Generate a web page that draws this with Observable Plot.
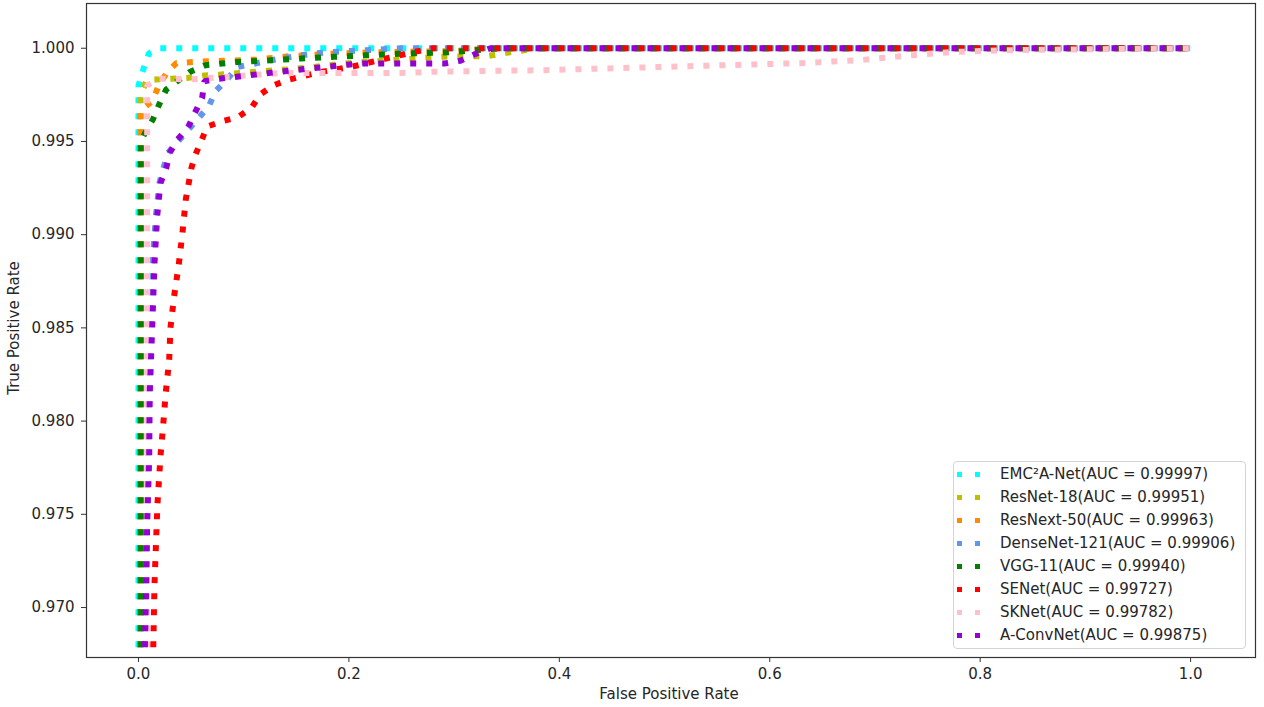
<!DOCTYPE html>
<html><head><meta charset="utf-8">
<script src="https://cdn.jsdelivr.net/npm/d3@7"></script>
<script src="https://cdn.jsdelivr.net/npm/@observablehq/plot@0.6"></script>
<style>
body{margin:0;background:#fff;font-family:"DejaVu Sans",sans-serif;}
#wrap{position:relative;width:1264px;height:707px;overflow:hidden;}
#legend{position:absolute;left:953px;top:461px;width:293px;height:188px;box-sizing:border-box;border:1px solid #d4d4d4;border-radius:4px;background:rgba(255,255,255,0.85);}
.row{position:absolute;left:0;height:20px;line-height:20px;font-size:15px;color:#262626;white-space:nowrap;}
.sq{position:absolute;top:7.5px;width:5px;height:5px;}
.lt{position:absolute;left:46px;top:0;}
.axlab{position:absolute;font-size:15px;color:#262626;white-space:nowrap;}
</style></head>
<body><div id="wrap"></div>
<script>
// Series names, colours, AUC values
const names = ["EMC²A-Net","ResNet-18","ResNext-50","DenseNet-121","VGG-11","SENet","SKNet","A-ConvNet"];
const aucs = ["0.99997","0.99951","0.99963","0.99906","0.99940","0.99727","0.99782","0.99875"];
const colors = ["#00ffff","#bfbf00","#ff8c00","#6495ed","#008000","#ff0000","#ffc0cb","#9400d3"];

// ROC points (FPR, TPR)
const emcFpr = [0.0, 0.0, 0.0045, 0.0098, 0.02, 1.0];
const emcTpr = [0.955, 0.9980, 0.99885, 0.99972, 1.0, 1.0];

const res18Fpr = [0.002, 0.002, 0.008, 0.016, 0.031, 0.047, 0.063, 0.078, 0.15, 0.2, 0.25, 0.29, 0.33, 0.355, 0.38, 1.0];
const res18Tpr = [0.955, 0.9975, 0.9983, 0.99832, 0.99837, 0.99841, 0.99854, 0.99859, 0.9989, 0.9992, 0.9994, 0.99955, 0.99957, 0.9998, 1.0, 1.0];

const resnextFpr = [0.0015, 0.0019, 0.013, 0.0183, 0.0263, 0.0361, 0.0668, 0.1128, 0.1428, 0.1888, 0.2357, 0.2965, 0.325, 0.345, 1.0];
const resnextTpr = [0.955, 0.99667, 0.99715, 0.99787, 0.99864, 0.99921, 0.9993, 0.99939, 0.99957, 0.99972, 0.9998, 0.99984, 0.99995, 1.0, 1.0];

const denseFpr = [0.004, 0.0052, 0.009, 0.0133, 0.0166, 0.02, 0.0278, 0.0573, 0.0668, 0.0732, 0.0843, 0.0938, 0.1254, 0.154, 0.168, 0.184, 0.2157, 0.249, 1.0];
const denseTpr = [0.955, 0.96763, 0.97806, 0.98844, 0.99102, 0.9928, 0.99437, 0.99627, 0.99688, 0.9977, 0.99833, 0.99899, 0.99935, 0.99962, 0.99972, 0.9998, 0.99989, 1.0, 1.0];

const vggFpr = [0.002, 0.0022, 0.014, 0.0197, 0.0263, 0.0488, 0.0637, 0.0938, 0.1245, 0.1546, 0.1856, 0.2157, 0.2613, 0.2934, 0.3155, 0.344, 1.0];
const vggTpr = [0.955, 0.99505, 0.99622, 0.99699, 0.99778, 0.99873, 0.99909, 0.99926, 0.99935, 0.99945, 0.99954, 0.99962, 0.99973, 0.99978, 0.99987, 1.0, 1.0];

const seFpr = [0.012, 0.014, 0.0152, 0.018, 0.0209, 0.0235, 0.0259, 0.0292, 0.0304, 0.0339, 0.0383, 0.0418, 0.045, 0.0504, 0.0542, 0.0602, 0.0653, 0.0805, 0.0944, 0.1074, 0.1153, 0.128, 0.1419, 0.1704, 0.2021, 0.2316, 0.2616, 0.28, 1.0];
const seTpr = [0.955, 0.9677, 0.9712, 0.9755, 0.9781, 0.9798, 0.9815, 0.9833, 0.985, 0.9867, 0.9884, 0.9901, 0.9919, 0.9936, 0.9943, 0.9951, 0.9958, 0.9961, 0.9963, 0.9968, 0.9975, 0.998, 0.9983, 0.9987, 0.999, 0.9994, 0.9998, 1.0, 1.0];

const skFpr = [0.008, 0.0083, 0.0202, 0.05, 0.135, 0.249, 0.28, 0.325, 0.382, 0.4866, 0.629, 0.686, 0.724, 0.772, 0.819, 0.914, 1.0];
const skTpr = [0.955, 0.99801, 0.99837, 0.99833, 0.99867, 0.99867, 0.99874, 0.99878, 0.99882, 0.99898, 0.9992, 0.99936, 0.99957, 0.99979, 0.99989, 0.99995, 1.0];

const convFpr = [0.0055, 0.006, 0.0073, 0.0083, 0.0102, 0.0107, 0.013, 0.0152, 0.0178, 0.0209, 0.0263, 0.0297, 0.0373, 0.0468, 0.0535, 0.0605, 0.0627, 0.0748, 0.1064, 0.1523, 0.1989, 0.2138, 0.2908, 0.306, 0.3196, 0.3345, 1.0];
const convTpr = [0.955, 0.9676, 0.97104, 0.97453, 0.97803, 0.98145, 0.98495, 0.98844, 0.99102, 0.99276, 0.99356, 0.99439, 0.99512, 0.99572, 0.99652, 0.99733, 0.99823, 0.99835, 0.99856, 0.99885, 0.99912, 0.99918, 0.99918, 0.99933, 0.99968, 1.0, 1.0];

const xTicks = [0.0, 0.2, 0.4, 0.6, 0.8, 1.0];
const yTicks = [0.970, 0.975, 0.980, 0.985, 0.990, 0.995, 1.000];

const series = [
  [emcFpr, emcTpr], [res18Fpr, res18Tpr], [resnextFpr, resnextTpr], [denseFpr, denseTpr],
  [vggFpr, vggTpr], [seFpr, seTpr], [skFpr, skTpr], [convFpr, convTpr]
];

const lineMarks = series.map(([fx, ty], i) =>
  Plot.line(fx.map((f, j) => ({fpr: f, tpr: ty[j]})), {
    x: "fpr", y: "tpr", stroke: colors[i], strokeWidth: 6,
    strokeDasharray: "6,10", strokeLinecap: "butt", strokeLinejoin: "miter", clip: true
  })
);

const chart = Plot.plot({
  width: 1264, height: 707,
  marginLeft: 86, marginRight: 9, marginTop: 3, marginBottom: 50,
  style: {fontFamily: "DejaVu Sans", fontSize: "15px", color: "#262626", background: "white"},
  x: {domain: [-0.0494, 1.0617]},
  y: {domain: [0.96732, 1.0024]},
  marks: [
    ...lineMarks,
    Plot.frame({stroke: "#333", strokeWidth: 1.2}),
    Plot.axisX({ticks: xTicks, tickFormat: d3.format(".1f"), tickSize: 5, tickPadding: 6, fontSize: 15, label: null, stroke: "#333"}),
    Plot.axisY({ticks: yTicks, tickFormat: d3.format(".3f"), tickSize: 5, tickPadding: 7, fontSize: 15, label: null, stroke: "#333"})
  ]
});

const wrap = document.getElementById("wrap");
wrap.appendChild(chart);

const xl = document.createElement("div");
xl.className = "axlab"; xl.textContent = "False Positive Rate";
xl.style.left = "669px"; xl.style.top = "694px"; xl.style.transform = "translate(-50%,-50%)";
wrap.appendChild(xl);
const yl = document.createElement("div");
yl.className = "axlab"; yl.textContent = "True Positive Rate";
yl.style.left = "14px"; yl.style.top = "328px"; yl.style.transform = "translate(-50%,-50%) rotate(-90deg)";
wrap.appendChild(yl);

const leg = document.createElement("div");
leg.id = "legend";
names.forEach((n, i) => {
  const r = document.createElement("div");
  r.className = "row";
  r.style.top = (473 + i * 23.04 - 461 - 10) + "px";
  r.style.width = "290px";
  const s1 = document.createElement("span"); s1.className = "sq"; s1.style.left = "2.5px"; s1.style.background = colors[i];
  const s2 = document.createElement("span"); s2.className = "sq"; s2.style.left = "21px"; s2.style.background = colors[i];
  const t = document.createElement("span"); t.className = "lt"; t.textContent = n + "(AUC = " + aucs[i] + ")";
  r.append(s1, s2, t);
  leg.appendChild(r);
});
wrap.appendChild(leg);
</script></body></html>
